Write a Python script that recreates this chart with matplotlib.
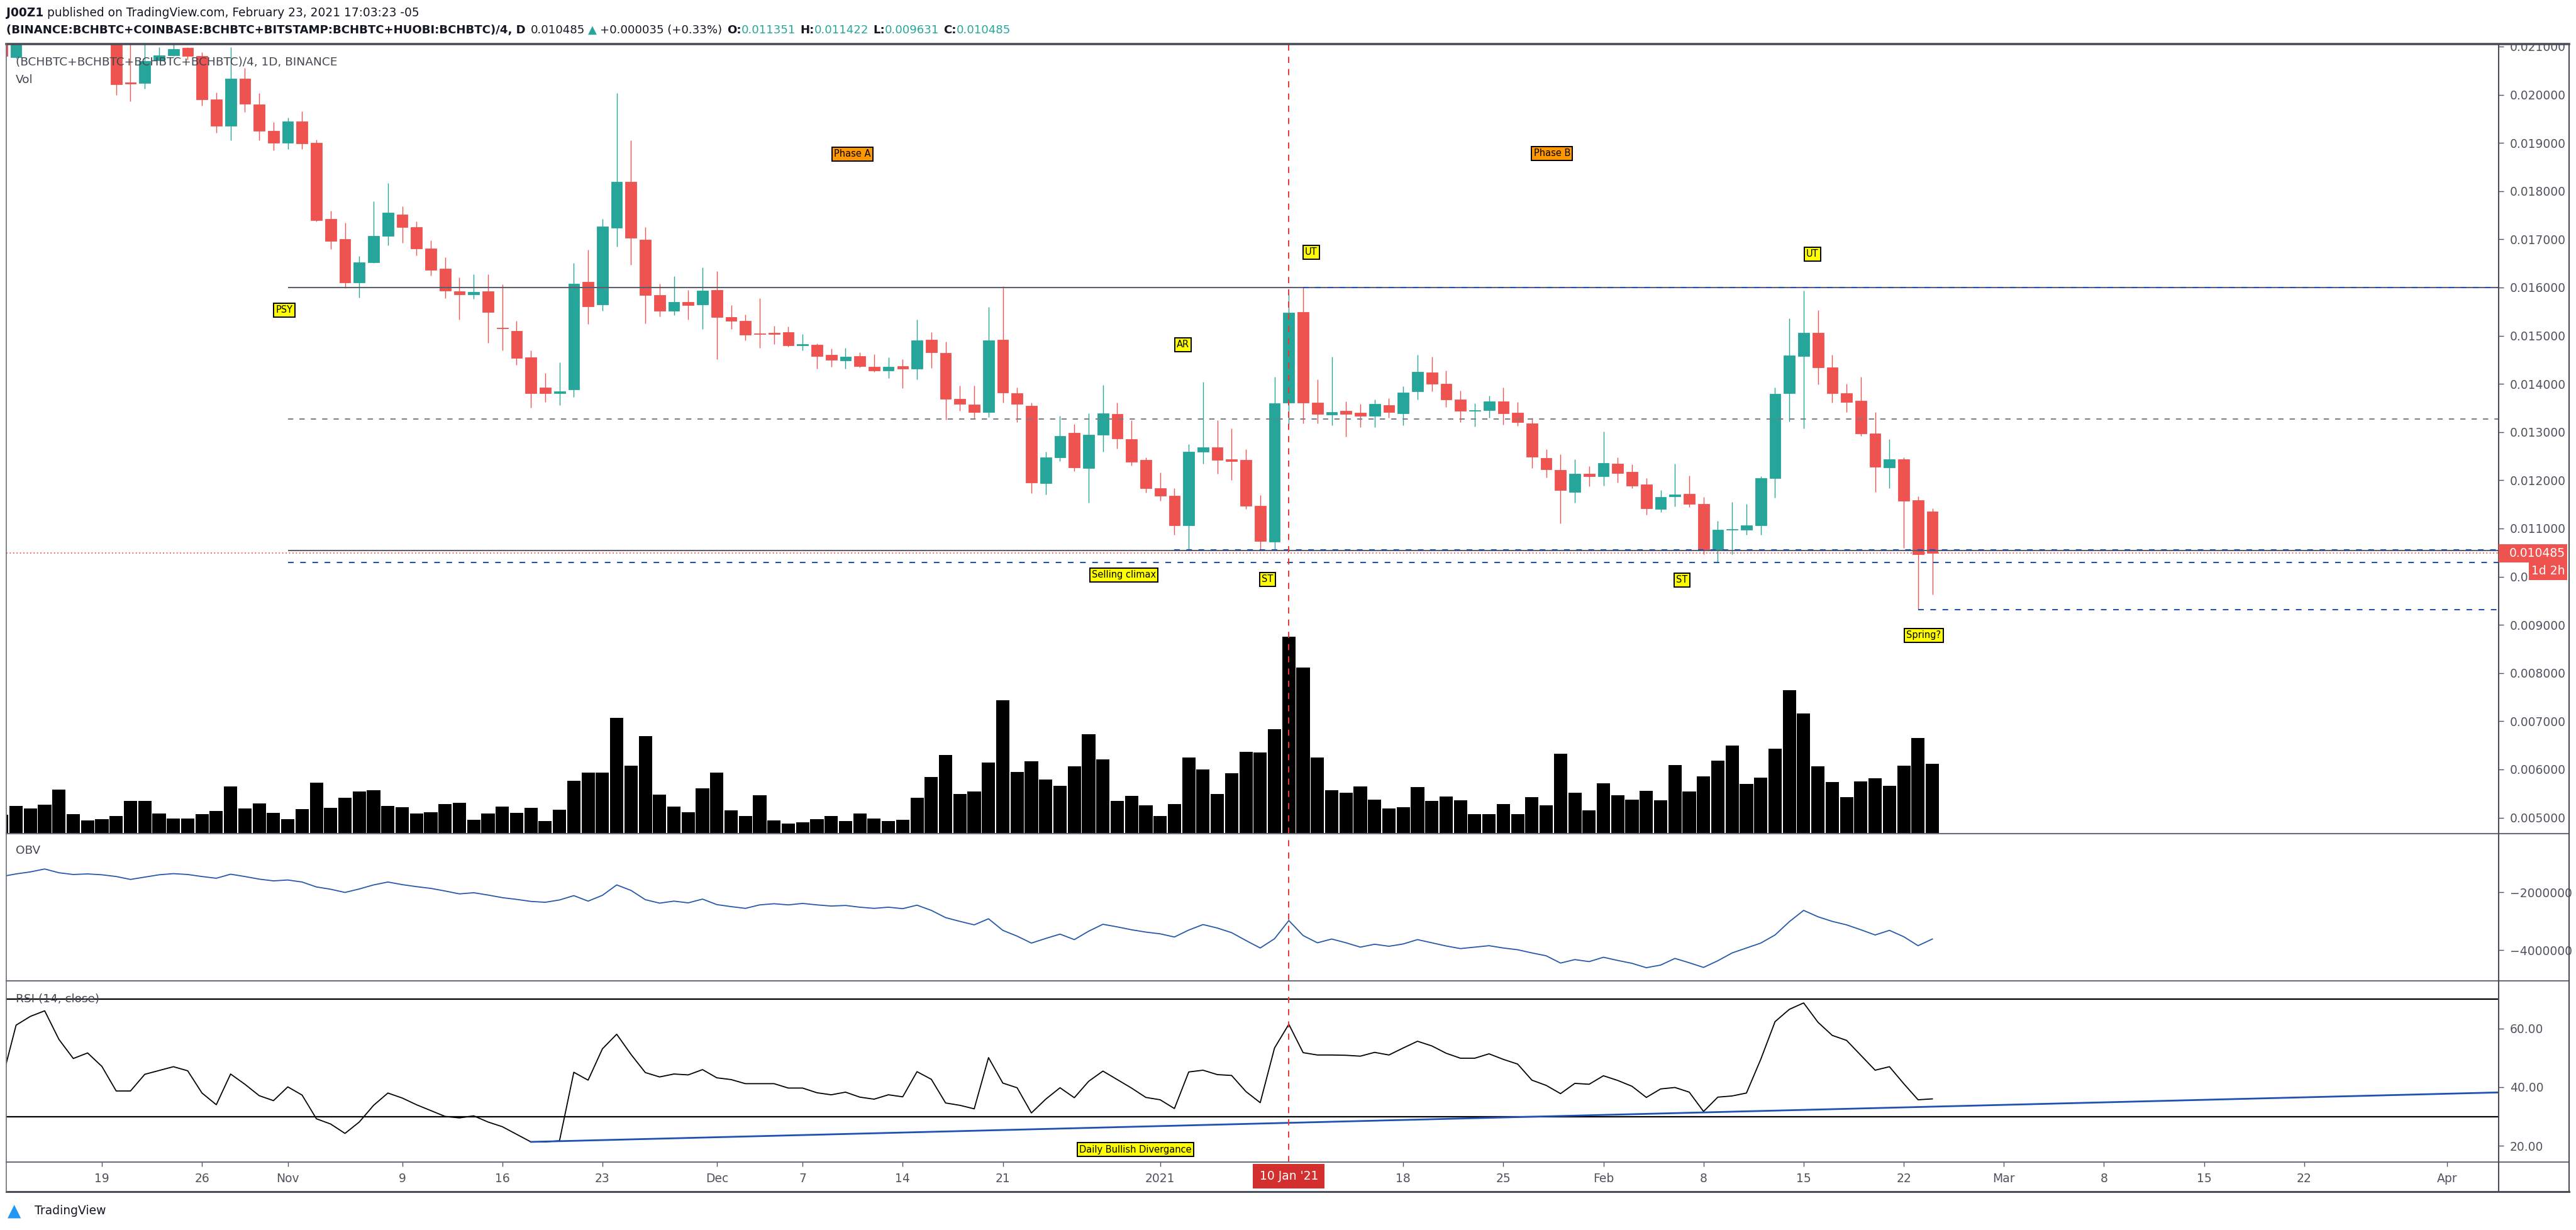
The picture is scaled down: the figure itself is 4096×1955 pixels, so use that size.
import matplotlib
matplotlib.use("Agg")
import matplotlib.pyplot as plt
import numpy as np
import pandas as pd
from matplotlib import font_manager as fm
from matplotlib.patches import Rectangle
from matplotlib.lines import Line2D
from matplotlib.ticker import FuncFormatter, FixedLocator, FixedFormatter
from matplotlib.transforms import blended_transform_factory as blend

# ---------------------------------------------------------------- data
dates = pd.date_range("2020-10-12", "2021-02-24", freq="D")

opens = [0.02120, 0.02078, 0.02120, 0.02140, 0.02160, 0.02150, 0.02140, 0.02130,
         0.02125, 0.02025, 0.02024, 0.02071, 0.02082, 0.02097, 0.02080, 0.01990, 0.01936, 0.02033,
         0.01980, 0.01925, 0.01900, 0.01945, 0.01900, 0.01742, 0.01701, 0.01611, 0.01652, 0.01707,
         0.01752, 0.01725, 0.01681, 0.01639, 0.01592, 0.01585, 0.01592, 0.01516, 0.01510, 0.01455,
         0.01393, 0.01380, 0.01388, 0.01612, 0.01565, 0.01724, 0.01819, 0.01699, 0.01584, 0.01552,
         0.01570, 0.01565, 0.01595, 0.01539, 0.01531, 0.01505, 0.01505, 0.01507, 0.01480, 0.01481,
         0.01460, 0.01449, 0.01458, 0.01436, 0.01427, 0.01437, 0.01431, 0.01492, 0.01464, 0.01369,
         0.01357, 0.01341, 0.01492, 0.01381, 0.01355, 0.01194, 0.01248, 0.01298, 0.01225, 0.01295,
         0.01337, 0.01285, 0.01242, 0.01184, 0.01168, 0.01106, 0.01259, 0.01269, 0.01244, 0.01242,
         0.01147, 0.01072, 0.01361, 0.01549, 0.01361, 0.01336, 0.01344, 0.01340, 0.01334, 0.01356,
         0.01339, 0.01384, 0.01424, 0.01400, 0.01368, 0.01344, 0.01346, 0.01364, 0.01340, 0.01318,
         0.01246, 0.01221, 0.01176, 0.01214, 0.01208, 0.01235, 0.01217, 0.01191, 0.01141, 0.01167,
         0.01172, 0.01151, 0.01054, 0.01097, 0.01098, 0.01106, 0.01205, 0.01380, 0.01458, 0.01506,
         0.01434, 0.01381, 0.01365, 0.01297, 0.01226, 0.01244, 0.01159, 0.011351]
highs = [0.02140, 0.02140, 0.02150, 0.02170, 0.02185, 0.02170, 0.02160, 0.02150,
         0.02140, 0.02120, 0.02115, 0.02099, 0.02105, 0.02099, 0.02088, 0.02005, 0.02099, 0.02055,
         0.02003, 0.01943, 0.01953, 0.01966, 0.01907, 0.01759, 0.01734, 0.01665, 0.01779, 0.01817,
         0.01769, 0.01737, 0.01698, 0.01662, 0.01621, 0.01627, 0.01628, 0.01606, 0.01531, 0.01470,
         0.01422, 0.01445, 0.01651, 0.01678, 0.01742, 0.02004, 0.01905, 0.01725, 0.01608, 0.01623,
         0.01595, 0.01642, 0.01634, 0.01564, 0.01544, 0.01578, 0.01520, 0.01519, 0.01504, 0.01484,
         0.01473, 0.01474, 0.01466, 0.01462, 0.01455, 0.01451, 0.01534, 0.01507, 0.01488, 0.01396,
         0.01396, 0.01559, 0.01603, 0.01392, 0.01361, 0.01259, 0.01334, 0.01317, 0.01339, 0.01397,
         0.01361, 0.01324, 0.01248, 0.01216, 0.01184, 0.01275, 0.01404, 0.01324, 0.01307, 0.01265,
         0.01169, 0.01414, 0.01589, 0.01600, 0.01410, 0.01456, 0.01364, 0.01358, 0.01368, 0.01370,
         0.01395, 0.01460, 0.01456, 0.01428, 0.01386, 0.01360, 0.01375, 0.01393, 0.01362, 0.01330,
         0.01264, 0.01254, 0.01243, 0.01229, 0.01301, 0.01248, 0.01233, 0.01204, 0.01180, 0.01235,
         0.01209, 0.01165, 0.01116, 0.01155, 0.01151, 0.01208, 0.01392, 0.01536, 0.01593, 0.01553,
         0.01460, 0.01400, 0.01414, 0.01342, 0.01286, 0.01248, 0.01167, 0.011422]
lows = [0.02070, 0.02075, 0.02110, 0.02125, 0.02130, 0.02125, 0.02115, 0.02110,
        0.01999, 0.01987, 0.02013, 0.02071, 0.02080, 0.02072, 0.01977, 0.01921, 0.01905, 0.01964,
        0.01906, 0.01884, 0.01887, 0.01887, 0.01737, 0.01680, 0.01599, 0.01579, 0.01651, 0.01688,
        0.01693, 0.01667, 0.01625, 0.01578, 0.01533, 0.01576, 0.01485, 0.01470, 0.01440, 0.01351,
        0.01363, 0.01356, 0.01373, 0.01524, 0.01552, 0.01685, 0.01647, 0.01525, 0.01540, 0.01543,
        0.01533, 0.01514, 0.01451, 0.01514, 0.01490, 0.01474, 0.01482, 0.01477, 0.01470, 0.01432,
        0.01436, 0.01432, 0.01434, 0.01425, 0.01412, 0.01391, 0.01410, 0.01433, 0.01326, 0.01344,
        0.01328, 0.01331, 0.01361, 0.01321, 0.01173, 0.01171, 0.01240, 0.01219, 0.01153, 0.01259,
        0.01266, 0.01231, 0.01175, 0.01158, 0.01087, 0.01055, 0.01234, 0.01214, 0.01201, 0.01141,
        0.01055, 0.01055, 0.01315, 0.01318, 0.01318, 0.01314, 0.01290, 0.01310, 0.01310, 0.01330,
        0.01314, 0.01368, 0.01385, 0.01352, 0.01321, 0.01312, 0.01330, 0.01316, 0.01313, 0.01225,
        0.01206, 0.01110, 0.01154, 0.01187, 0.01189, 0.01195, 0.01184, 0.01129, 0.01134, 0.01146,
        0.01145, 0.01046, 0.01030, 0.01046, 0.01087, 0.01087, 0.01164, 0.01322, 0.01308, 0.01399,
        0.01361, 0.01342, 0.01292, 0.01176, 0.01184, 0.01059, 0.00932, 0.009631]
closes = [0.02080, 0.02120, 0.02140, 0.02160, 0.02150, 0.02140, 0.02130, 0.02125,
          0.02022, 0.02023, 0.02070, 0.02082, 0.02095, 0.02080, 0.01990, 0.01936, 0.02033, 0.01981,
          0.01925, 0.01900, 0.01945, 0.01899, 0.01740, 0.01697, 0.01611, 0.01652, 0.01707, 0.01755,
          0.01725, 0.01681, 0.01637, 0.01593, 0.01586, 0.01591, 0.01549, 0.01515, 0.01454, 0.01381,
          0.01381, 0.01384, 0.01608, 0.01561, 0.01726, 0.01819, 0.01703, 0.01584, 0.01552, 0.01570,
          0.01563, 0.01593, 0.01539, 0.01531, 0.01502, 0.01503, 0.01504, 0.01480, 0.01481, 0.01458,
          0.01450, 0.01457, 0.01437, 0.01428, 0.01436, 0.01431, 0.01490, 0.01465, 0.01369, 0.01358,
          0.01341, 0.01490, 0.01382, 0.01358, 0.01195, 0.01248, 0.01292, 0.01227, 0.01295, 0.01339,
          0.01287, 0.01239, 0.01184, 0.01168, 0.01106, 0.01259, 0.01269, 0.01242, 0.01240, 0.01147,
          0.01074, 0.01360, 0.01548, 0.01361, 0.01337, 0.01342, 0.01337, 0.01334, 0.01358, 0.01341,
          0.01382, 0.01425, 0.01400, 0.01368, 0.01344, 0.01345, 0.01364, 0.01339, 0.01320, 0.01249,
          0.01223, 0.01179, 0.01214, 0.01208, 0.01236, 0.01215, 0.01189, 0.01142, 0.01165, 0.01170,
          0.01151, 0.01054, 0.01097, 0.01099, 0.01106, 0.01204, 0.01379, 0.01459, 0.01506, 0.01434,
          0.01381, 0.01363, 0.01297, 0.01228, 0.01244, 0.01157, 0.01047, 0.010485]
volume = [54, 80, 73, 84, 127, 56, 38, 41,
          50, 95, 95, 59, 44, 44, 56, 65, 136, 73,
          87, 60, 41, 71, 148, 75, 104, 121, 126, 80,
          76, 58, 62, 86, 89, 40, 59, 78, 60, 75,
          36, 69, 153, 176, 177, 334, 196, 282, 113, 78,
          62, 131, 176, 67, 51, 111, 38, 29, 33, 41,
          51, 36, 59, 44, 36, 40, 104, 164, 227, 115,
          121, 206, 385, 179, 209, 156, 139, 195, 288, 215,
          95, 109, 82, 50, 86, 220, 186, 115, 174, 236,
          235, 301, 569, 480, 220, 126, 118, 137, 98, 73,
          77, 135, 94, 107, 96, 56, 57, 85, 57, 106,
          82, 230, 118, 68, 145, 111, 98, 124, 96, 199,
          122, 166, 211, 254, 144, 162, 245, 414, 348, 195,
          149, 106, 151, 160, 138, 197, 277, 201]
obv_millions = [-1.46, -1.37, -1.30, -1.20, -1.33, -1.39, -1.37, -1.40,
                -1.46, -1.56, -1.48, -1.40, -1.36, -1.39, -1.46, -1.52, -1.38, -1.46,
                -1.55, -1.61, -1.58, -1.65, -1.82, -1.90, -2.01, -1.89, -1.75, -1.65,
                -1.74, -1.81, -1.87, -1.96, -2.06, -2.02, -2.10, -2.19, -2.25, -2.32,
                -2.35, -2.27, -2.12, -2.31, -2.11, -1.75, -1.94, -2.26, -2.38, -2.31,
                -2.37, -2.24, -2.43, -2.50, -2.56, -2.44, -2.40, -2.44, -2.39, -2.44,
                -2.48, -2.46, -2.52, -2.56, -2.52, -2.57, -2.45, -2.63, -2.88, -3.01,
                -3.13, -2.92, -3.32, -3.52, -3.76, -3.60, -3.45, -3.64, -3.35, -3.11,
                -3.20, -3.30, -3.38, -3.44, -3.55, -3.31, -3.12, -3.24, -3.40, -3.67,
                -3.93, -3.61, -2.98, -3.50, -3.75, -3.62, -3.75, -3.90, -3.80, -3.87,
                -3.79, -3.64, -3.75, -3.86, -3.95, -3.90, -3.85, -3.93, -3.99, -4.10,
                -4.20, -4.45, -4.33, -4.40, -4.25, -4.36, -4.46, -4.61, -4.52, -4.29,
                -4.44, -4.60, -4.37, -4.10, -3.93, -3.76, -3.48, -3.02, -2.63, -2.85,
                -3.01, -3.13, -3.30, -3.48, -3.32, -3.54, -3.85, -3.62]
rsi = [42.2, 61.2, 64.2, 66.1, 56.3, 49.8, 51.7, 47.1,
       38.7, 38.7, 44.4, 45.7, 47.0, 45.6, 38.0, 34.0, 44.5, 41.0,
       37.1, 35.4, 40.1, 37.3, 29.2, 27.4, 24.2, 28.1, 33.8, 38.0,
       36.3, 34.0, 32.0, 30.0, 29.5, 30.2, 28.1, 26.5, 23.9, 21.3,
       21.3, 21.7, 45.1, 42.4, 53.1, 58.1, 51.2, 45.0, 43.5, 44.5,
       44.2, 46.0, 43.2, 42.6, 41.2, 41.2, 41.2, 39.7, 39.7, 38.1,
       37.4, 38.3, 36.6, 35.9, 37.4, 36.7, 45.3, 42.7, 34.6, 33.8,
       32.6, 50.1, 41.4, 39.8, 31.2, 35.9, 39.8, 36.4, 42.0, 45.5,
       42.6, 39.7, 36.5, 35.7, 32.7, 45.2, 45.8, 44.3, 44.0, 38.5,
       34.7, 53.4, 61.5, 51.8, 51.0, 51.0, 50.9, 50.6, 51.9, 51.0,
       53.4, 55.7, 54.1, 51.6, 49.9, 49.9, 51.4, 49.5, 47.9, 42.4,
       40.6, 37.8, 41.3, 41.0, 43.9, 42.3, 40.3, 36.5, 39.4, 39.9,
       38.3, 31.7, 36.6, 37.0, 38.0, 49.5, 62.4, 66.6, 68.8, 62.2,
       57.7, 56.0, 50.9, 45.8, 47.0, 41.2, 35.7, 36.0]

tick_dates = ["2020-10-19", "2020-10-26", "2020-11-01", "2020-11-09", "2020-11-16", "2020-11-23",
              "2020-12-01", "2020-12-07", "2020-12-14", "2020-12-21", "2021-01-01", "2021-01-18",
              "2021-01-25", "2021-02-01", "2021-02-08", "2021-02-15", "2021-02-22", "2021-03-01",
              "2021-03-08", "2021-03-15", "2021-03-22", "2021-04-01"]
tick_labels = ["19", "26", "Nov", "9", "16", "23", "Dec", "7", "14", "21", "2021", "18",
               "25", "Feb", "8", "15", "22", "Mar", "8", "15", "22", "Apr"]

price_ticks = [0.005, 0.006, 0.007, 0.008, 0.009, 0.010, 0.011, 0.012, 0.013, 0.014,
               0.015, 0.016, 0.017, 0.018, 0.019, 0.020, 0.021]
# the 0.010000 label is mostly hidden behind the countdown tag; only "0.0" shows
price_tick_labels = ["0.005000", "0.006000", "0.007000", "0.008000", "0.009000", "0.0",
                     "0.011000", "0.012000", "0.013000", "0.014000", "0.015000", "0.016000",
                     "0.017000", "0.018000", "0.019000", "0.020000", "0.021000"]
obv_ticks = [-2000000, -4000000]
rsi_ticks = [20, 40, 60]

# drawn horizontal levels: (price, start date, style)
level_price = [0.01600, 0.01327, 0.01054, 0.01029, 0.01600, 0.01055, 0.00932]
level_start = ["2020-11-01", "2020-11-01", "2020-11-01", "2020-11-01", "2021-01-11", "2021-01-02", "2021-02-23"]
level_style = ["grey_solid", "grey_dash", "grey_solid", "blue_dash", "blue_dash", "blue_dash", "blue_dash"]
last_price = 0.010485
marker_date = "2021-01-10"

label_text = ["PSY", "Phase A", "AR", "Selling climax", "ST", "UT", "Phase B", "UT", "ST", "Spring?"]
label_day = [12.75, 52.47, 75.6, 71.47, 81.5, 84.57, 101.4, 119.6, 110.5, 127.4]
label_price = [0.01553, 0.018768, 0.014812, 0.010034, 0.009943, 0.016731, 0.018781, 0.016692, 0.009930, 0.008781]
label_fill = ["#ffff00", "#ff9800", "#ffff00", "#ffff00", "#ffff00", "#ffff00", "#ff9800", "#ffff00", "#ffff00", "#ffff00"]

div_label = "Daily Bullish Divergance"
div_day, div_rsi = 72.26, 18.7
trend_day = [30.0, 112.2]
trend_rsi = [21.3, 31.4]

# ---------------------------------------------------------------- style
W, H, DPI = 4096, 1955, 100
UP, DN = "#26a69a", "#ef5350"
TXT = "#50535e"
FRAME = "#4a4d57"
BLUE = "#2050b0"
AX_FS = 13.5
names = {f.name for f in fm.fontManager.ttflist}
NARROW = "Liberation Sans Narrow" if "Liberation Sans Narrow" in names else "DejaVu Sans"
NARROW_SIZE = 13 if NARROW != "DejaVu Sans" else 10.5
plt.rcParams["font.family"] = ["DejaVu Sans"]

origin = pd.Timestamp("2020-10-19")
x = np.asarray((dates - origin).days, dtype=float)
o, h, l, c = (np.asarray(a) for a in (opens, highs, lows, closes))
XLIM = (-6.685, 167.6)

fig = plt.figure(figsize=(W / DPI, H / DPI), dpi=DPI)
fig.patch.set_facecolor("white")
L_PX, R_PX = 10, 3973


def add_ax(top, bottom, **kw):
    return fig.add_axes([L_PX / W, 1 - bottom / H, (R_PX - L_PX) / W, (bottom - top) / H], **kw)


ax_vol = add_ax(70, 1325)
ax = add_ax(70, 1325, sharex=ax_vol)
ax_obv = add_ax(1325, 1559, sharex=ax_vol)
ax_rsi = add_ax(1559, 1847, sharex=ax_vol)

for a in (ax_vol, ax, ax_obv, ax_rsi):
    for s in a.spines.values():
        s.set_visible(False)
    a.set_xlim(*XLIM)

ax_vol.set_zorder(1)
ax.set_zorder(2)
ax.patch.set_visible(False)

# volume
ax_vol.bar(x, volume, width=0.93, color="black", zorder=2)
ax_vol.set_ylim(0, 2281)
ax_vol.set_yticks([])
ax_vol.tick_params(axis="x", bottom=False, labelbottom=False)

# candles
col = np.where(c >= o, UP, DN)
ax.vlines(x, l, h, colors=col, lw=1.0, zorder=3)
ax.bar(x, np.maximum(np.abs(c - o), 0.00002), bottom=np.minimum(o, c), width=0.78,
       color=col, edgecolor=col, lw=0.6, zorder=4)
ax.set_ylim(0.004668, 0.021052)
ax.yaxis.tick_right()
ax.yaxis.set_major_locator(FixedLocator(price_ticks))
ax.yaxis.set_major_formatter(FixedFormatter(price_tick_labels))
ax.tick_params(axis="y", direction="out", length=6, width=1.0, color=TXT, pad=7,
               labelsize=AX_FS, labelcolor=TXT)
ax.tick_params(axis="x", bottom=False, labelbottom=False)

# horizontal levels
styles = {"grey_solid": dict(color="#5d606b", lw=1.5, ls="-"),
          "grey_dash": dict(color="#787b86", lw=1.4, ls=(0, (4.3, 5))),
          "blue_dash": dict(color=BLUE, lw=1.5, ls=(0, (4.3, 5)))}
for p, sd, st in zip(level_price, level_start, level_style):
    d0 = (pd.Timestamp(sd) - origin).days
    ax.hlines(p, d0, XLIM[1], zorder=5, **styles[st])
ax.axhline(last_price, color=DN, lw=1.3, ls=(0, (1, 2)), zorder=5)

# annotation labels
for t, dx, py, fc in zip(label_text, label_day, label_price, label_fill):
    ax.text(dx, py, t, ha="center", va="center", fontsize=NARROW_SIZE, family=[NARROW, "DejaVu Sans"],
            color="black", zorder=8,
            bbox=dict(boxstyle="square,pad=0.22", fc=fc, ec="black", lw=1.4))

# OBV
ax_obv.plot(x, np.asarray(obv_millions) * 1e6, color="#2558a8", lw=1.3)
ax_obv.set_ylim(-5.065e6, 0.022e6)
ax_obv.yaxis.tick_right()
ax_obv.yaxis.set_major_locator(FixedLocator(obv_ticks))
ax_obv.yaxis.set_major_formatter(FuncFormatter(lambda v, p: f"{v:.0f}".replace("-", "\u2212")))
ax_obv.tick_params(axis="y", direction="out", length=6, width=1.0, color=TXT, pad=7,
                   labelsize=AX_FS, labelcolor=TXT)
ax_obv.tick_params(axis="x", bottom=False, labelbottom=False)

# RSI
ax_rsi.plot(x, rsi, color="black", lw=1.3, zorder=4)
ax_rsi.axhline(70, color="black", lw=1.6, zorder=3)
ax_rsi.axhline(30, color="black", lw=1.6, zorder=3)
slope = (trend_rsi[1] - trend_rsi[0]) / (trend_day[1] - trend_day[0])
ax_rsi.plot([trend_day[0], XLIM[1]], [trend_rsi[0], trend_rsi[0] + slope * (XLIM[1] - trend_day[0])],
            color=BLUE, lw=2.0, zorder=5)
ax_rsi.text(div_day, div_rsi, div_label, ha="center", va="center", fontsize=NARROW_SIZE,
            family=[NARROW, "DejaVu Sans"], zorder=8,
            bbox=dict(boxstyle="square,pad=0.22", fc="#ffff00", ec="black", lw=1.4))
ax_rsi.set_ylim(14.41, 76.34)
ax_rsi.yaxis.tick_right()
ax_rsi.yaxis.set_major_locator(FixedLocator(rsi_ticks))
ax_rsi.yaxis.set_major_formatter(FuncFormatter(lambda v, p: f"{v:.2f}"))
ax_rsi.tick_params(axis="y", direction="out", length=6, width=1.0, color=TXT, pad=7,
                   labelsize=AX_FS, labelcolor=TXT)
tick_x = [(pd.Timestamp(t) - origin).days for t in tick_dates]
ax_rsi.xaxis.set_major_locator(FixedLocator(tick_x))
ax_rsi.set_xticklabels(tick_labels)
ax_rsi.tick_params(axis="x", direction="out", length=5, width=1.0, color=TXT, pad=7,
                   labelsize=AX_FS, labelcolor=TXT)

# vertical marker line
md = (pd.Timestamp(marker_date) - origin).days
for a in (ax, ax_obv, ax_rsi):
    a.axvline(md, color="#e53935", lw=1.4, ls=(0, (5, 5)), zorder=6)

# ---------------------------------------------------------------- frame
def fline(x0, y0, x1, y1, lw=1.5, color=FRAME, z=6):
    fig.add_artist(Line2D([x0 / W, x1 / W], [1 - y0 / H, 1 - y1 / H], transform=fig.transFigure,
                          color=color, lw=lw, zorder=z))


# cover top half of clipped label above the chart
fig.add_artist(Rectangle((3974 / W, 1 - 69 / H), (W - 3974) / W, 69 / H, transform=fig.transFigure,
                         fc="white", ec="none", zorder=3))
fline(L_PX, 70, 4085, 70, lw=2.6)
fline(L_PX, 1894, 4085, 1894, lw=2.2)
for yy in (1325, 1559, 1847):
    fline(L_PX, yy, 4085, yy, lw=1.5, color="#6a6d78")
fline(L_PX, 70, L_PX, 1894, lw=1.2, color="#6a6d78")
fline(R_PX, 70, R_PX, 1894, lw=1.5)
fline(4085, 70, 4085, 1894, lw=1.5)

# current price tag and countdown on the price scale
bt = blend(fig.transFigure, ax.transData)
ppx = 1 / 76600.0
fig.add_artist(Rectangle((R_PX / W, last_price - 14.5 * ppx), (4082 - R_PX) / W, 29 * ppx,
                         transform=bt, fc="#ef5350", ec="none", zorder=7))
fig.add_artist(Rectangle((4021 / W, last_price - 42.5 * ppx), (4082 - 4021) / W, 28 * ppx,
                         transform=bt, fc="#ef5350", ec="none", zorder=7))
fig.text(3990 / W, last_price, f"{last_price:.6f}", transform=bt, color="white", fontsize=AX_FS,
         va="center", ha="left", zorder=8)
fig.text(4052 / W, last_price - 28.5 * ppx, "1d 2h", transform=bt, color="white", fontsize=AX_FS,
         va="center", ha="center", zorder=8)

# date tag on the time scale
bx = blend(ax_rsi.transData, fig.transFigure)
ax_rsi.text(md, 1 - 1869.5 / H, "10 Jan '21", transform=bx, ha="center", va="center", color="white",
            fontsize=AX_FS, zorder=9, clip_on=False,
            bbox=dict(boxstyle="square,pad=0.55", fc="#d32f2f", ec="none"))

# ---------------------------------------------------------------- texts
renderer = fig.canvas.get_renderer()


def runs(xpx, ypx, parts, size):
    for s, color, weight, gap in parts:
        t = fig.text(xpx / W, 1 - ypx / H, s, fontsize=size, color=color, fontweight=weight,
                     va="center", ha="left", zorder=9)
        xpx = t.get_window_extent(renderer).x1 + gap


HDR = "#131722"
runs(10, 20, [("J00Z1", HDR, "bold", 6),
              ("published on TradingView.com, February 23, 2021 17:03:23 -05", HDR, "normal", 0)], 13.4)
runs(10, 48, [("(BINANCE:BCHBTC+COINBASE:BCHBTC+BITSTAMP:BCHBTC+HUOBI:BCHBTC)/4, D", HDR, "bold", 8),
              ("0.010485", HDR, "normal", 5), ("\u25b2", UP, "normal", 5),
              ("+0.000035 (+0.33%)", HDR, "normal", 8),
              ("O:", HDR, "bold", 0), ("0.011351", UP, "normal", 7),
              ("H:", HDR, "bold", 0), ("0.011422", UP, "normal", 7),
              ("L:", HDR, "bold", 0), ("0.009631", UP, "normal", 7),
              ("C:", HDR, "bold", 0), ("0.010485", UP, "normal", 0)], 13.1)

fig.text(25 / W, 1 - 98.5 / H, "(BCHBTC+BCHBTC+BCHBTC+BCHBTC)/4, 1D, BINANCE", fontsize=13.3,
         color="#434651", va="center", ha="left", zorder=9)
fig.text(25 / W, 1 - 127 / H, "Vol", fontsize=13.3, color="#434651", va="center", ha="left", zorder=9)
fig.text(25 / W, 1 - 1352 / H, "OBV", fontsize=13.3, color="#434651", va="center", ha="left", zorder=9)
fig.text(25 / W, 1 - 1588 / H, "RSI (14, close)", fontsize=13.3, color="#434651", va="center", ha="left",
         zorder=9)

# TradingView mark
fig.text(12 / W, 1 - 1925 / H, "\u25b2", fontsize=20, color="#2196f3", va="center", ha="left")
fig.text(55 / W, 1 - 1925 / H, "TradingView", fontsize=13.5, color=HDR, va="center", ha="left")

fig.savefig("out.png", dpi=DPI, facecolor="white")
